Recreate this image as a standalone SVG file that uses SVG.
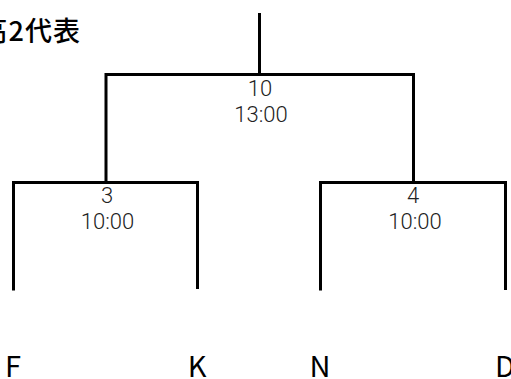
<svg xmlns="http://www.w3.org/2000/svg" width="511" height="379" viewBox="0 0 511 379">
<style>
.ln{fill:none;stroke:#000;stroke-width:3;stroke-linejoin:miter;stroke-linecap:butt}
.m{font-family:Roboto,"Liberation Sans",sans-serif;font-weight:300;font-size:22px;fill:#222;text-anchor:middle}
.leaf{font-family:"Noto Sans CJK JP","Liberation Sans",sans-serif;font-size:29px;fill:#000;text-anchor:middle}
.title{font-family:"Noto Sans CJK JP","Liberation Sans",sans-serif;font-size:27px;font-weight:500;fill:#000;text-anchor:end}
</style>
<rect width="511" height="379" fill="#fff"/>
<g id="connectors">
<path class="ln" d="M259.5,13 V74.5"/>
<path class="ln" d="M106,183 V74.5 H413.5 V183"/>
<path class="ln" d="M13.5,290.5 V182.5 H199 M197.5,181 V289"/>
<path class="ln" d="M320.5,290.5 V182.5 H505.5 V290"/>
</g>
<g id="title"><text class="title" x="81" y="41" letter-spacing="1">高2代表</text></g>
<g id="match10"><text class="m" x="260" y="96">10</text><text class="m" x="261" y="122">13:00</text></g>
<g id="match3"><text class="m" x="107" y="203">3</text><text class="m" x="107.5" y="229">10:00</text></g>
<g id="match4"><text class="m" x="413" y="203">4</text><text class="m" x="415" y="229">10:00</text></g>
<g id="leafF"><text class="leaf" x="13" y="377">F</text></g>
<g id="leafK"><text class="leaf" x="197" y="377">K</text></g>
<g id="leafN"><text class="leaf" x="320" y="377">N</text></g>
<g id="leafD"><text class="leaf" x="505" y="377">D</text></g>
</svg>
